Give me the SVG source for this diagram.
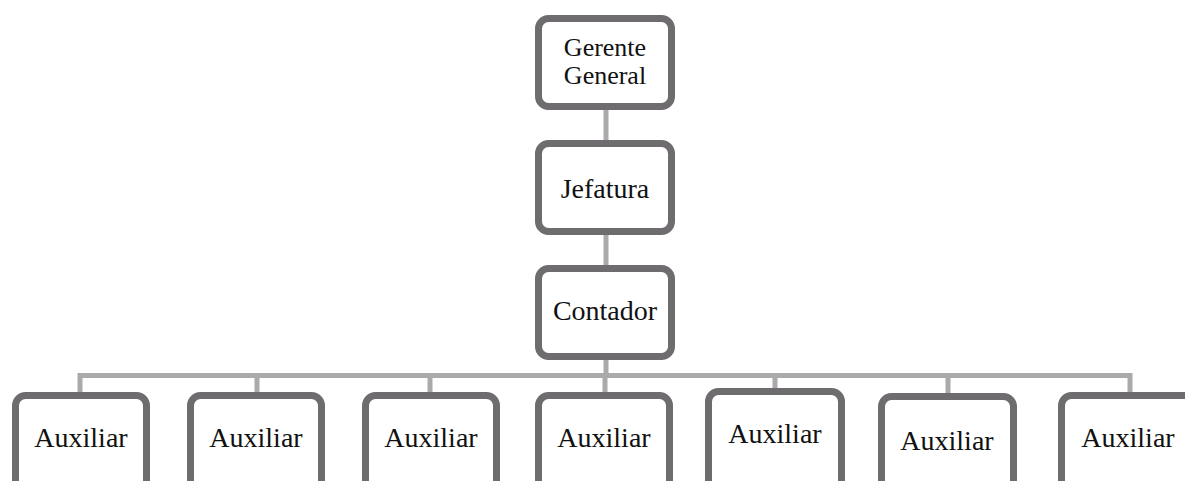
<svg xmlns="http://www.w3.org/2000/svg" width="1185" height="481" viewBox="0 0 1185 481">
<style>
.box{fill:#fff;stroke:#6e6c6e;stroke-width:7}
.t{font-family:'Liberation Serif','DejaVu Serif','Times New Roman',Times,serif;font-size:28px;fill:#111;text-anchor:middle}
.g{font-size:26px}
.c{fill:none;stroke:#aba9ab;stroke-width:5}
</style>
<rect width="1185" height="481" fill="#fff"/>
<g id="connectors">
<line class="c" x1="606" y1="110" x2="606" y2="141"/>
<line class="c" x1="606" y1="235" x2="606" y2="266"/>
<line class="c" x1="606" y1="360" x2="606" y2="376"/>
<polyline class="c" points="80,393 80,375.5 1130,375.5 1130,393"/>
<line class="c" x1="257" y1="375" x2="257" y2="393"/>
<line class="c" x1="430" y1="375" x2="430" y2="393"/>
<line class="c" x1="605" y1="375" x2="605" y2="393"/>
<line class="c" x1="775" y1="375" x2="775" y2="390"/>
<line class="c" x1="948" y1="375" x2="948" y2="394"/>
</g>
<g id="gerente">
<rect class="box" x="538.5" y="18.5" width="133" height="88" rx="10"/>
<text class="t g" x="605" y="56">Gerente</text>
<text class="t g" x="605" y="83.5">General</text>
</g>
<g id="jefatura">
<rect class="box" x="538.5" y="143.5" width="133" height="88" rx="10"/>
<text class="t" x="605" y="198">Jefatura</text>
</g>
<g id="contador">
<rect class="box" x="538.5" y="268.5" width="133" height="88" rx="10"/>
<text class="t" x="605" y="320">Contador</text>
</g>
<g id="aux1">
<rect class="box" x="15.5" y="395.5" width="131" height="100" rx="10"/>
<text class="t" x="81" y="447">Auxiliar</text>
</g>
<g id="aux2">
<rect class="box" x="190.5" y="395.5" width="131" height="100" rx="10"/>
<text class="t" x="256" y="447">Auxiliar</text>
</g>
<g id="aux3">
<rect class="box" x="365.5" y="395.5" width="131" height="100" rx="10"/>
<text class="t" x="431" y="447">Auxiliar</text>
</g>
<g id="aux4">
<rect class="box" x="538.5" y="395.5" width="131" height="100" rx="10"/>
<text class="t" x="604" y="447">Auxiliar</text>
</g>
<g id="aux5">
<rect class="box" x="708.5" y="391.5" width="133" height="100" rx="10"/>
<text class="t" x="775" y="443">Auxiliar</text>
</g>
<g id="aux6">
<rect class="box" x="881.5" y="396.5" width="132" height="100" rx="10"/>
<text class="t" x="947" y="450">Auxiliar</text>
</g>
<g id="aux7">
<rect class="box" x="1061.5" y="395.5" width="140" height="100" rx="10"/>
<text class="t" x="1128" y="447">Auxiliar</text>
</g>
</svg>
